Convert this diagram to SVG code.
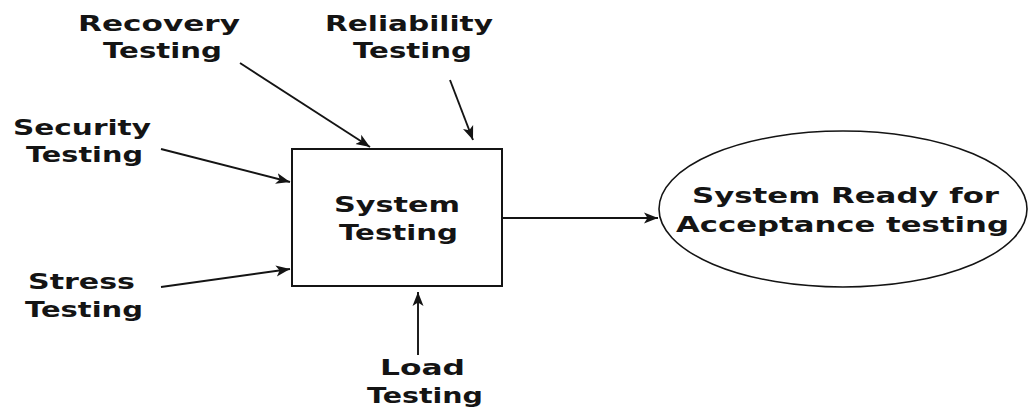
<svg xmlns="http://www.w3.org/2000/svg" width="1029" height="412" viewBox="0 0 1029 412">
<style>
  text { font-family: "DejaVu Sans", "Liberation Sans", sans-serif; font-weight: bold; font-size: 22px; fill: #141414; }
  .shape { fill: #ffffff; stroke: #141414; stroke-width: 2; }
  .oval { fill: #ffffff; stroke: #141414; stroke-width: 1.6; }
  .conn { stroke: #141414; stroke-width: 1.9; fill: none; marker-end: url(#arrow); }
</style>
<defs>
  <marker id="arrow" markerUnits="userSpaceOnUse" markerWidth="15" markerHeight="12" refX="14" refY="6" orient="auto">
    <path d="M0,0.5 L14,6 L0,11.5 L3.5,6 Z" fill="#141414"/>
  </marker>
</defs>
<rect width="1029" height="412" fill="#ffffff"/>

<g id="connectors">
  <line class="conn" x1="240" y1="63" x2="370" y2="147"/>
  <line class="conn" x1="450" y1="80" x2="473" y2="140"/>
  <line class="conn" x1="161" y1="149" x2="290" y2="182"/>
  <line class="conn" x1="161" y1="287" x2="290" y2="269"/>
  <line class="conn" x1="418" y1="355" x2="418" y2="292"/>
  <line class="conn" x1="503" y1="218" x2="658" y2="218"/>
</g>

<g id="system-testing">
  <rect class="shape" x="292" y="149" width="210" height="137"/>
  <text x="334" y="212" textLength="126" lengthAdjust="spacingAndGlyphs">System</text>
  <text x="339" y="240" textLength="119" lengthAdjust="spacingAndGlyphs">Testing</text>
</g>

<g id="acceptance">
  <ellipse class="oval" cx="843" cy="209" rx="184" ry="78"/>
  <text x="692" y="203" textLength="307" lengthAdjust="spacingAndGlyphs">System Ready for</text>
  <text x="676" y="232" textLength="333" lengthAdjust="spacingAndGlyphs">Acceptance testing</text>
</g>

<g id="recovery-testing">
  <text x="78" y="31" textLength="162" lengthAdjust="spacingAndGlyphs">Recovery</text>
  <text x="103" y="58" textLength="119" lengthAdjust="spacingAndGlyphs">Testing</text>
</g>

<g id="reliability-testing">
  <text x="325" y="31" textLength="168" lengthAdjust="spacingAndGlyphs">Reliability</text>
  <text x="353" y="58" textLength="119" lengthAdjust="spacingAndGlyphs">Testing</text>
</g>

<g id="security-testing">
  <text x="13" y="135" textLength="138" lengthAdjust="spacingAndGlyphs">Security</text>
  <text x="26" y="162" textLength="117" lengthAdjust="spacingAndGlyphs">Testing</text>
</g>

<g id="stress-testing">
  <text x="28" y="289" textLength="107" lengthAdjust="spacingAndGlyphs">Stress</text>
  <text x="25" y="317" textLength="118" lengthAdjust="spacingAndGlyphs">Testing</text>
</g>

<g id="load-testing">
  <text x="380" y="375" textLength="85" lengthAdjust="spacingAndGlyphs">Load</text>
  <text x="367" y="403" textLength="116" lengthAdjust="spacingAndGlyphs">Testing</text>
</g>
</svg>
